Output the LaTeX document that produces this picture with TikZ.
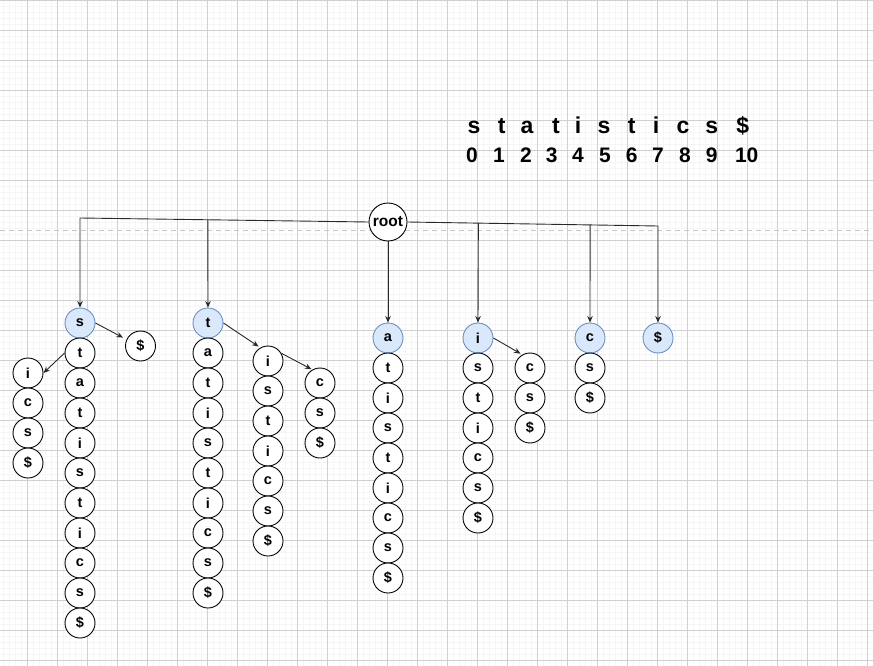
\documentclass[tikz,border=0pt]{standalone}
\usepackage{fontspec}
\setmainfont{Liberation Sans}
\usetikzlibrary{arrows.meta,calc}
\definecolor{hlfill}{HTML}{DAE8FC}
\definecolor{hldraw}{HTML}{6C8EBF}
\definecolor{majorc}{HTML}{D0D0D0}
\definecolor{minorc}{HTML}{F5F5F5}
\definecolor{edgec}{HTML}{2A2A2A}
\definecolor{dashc}{HTML}{C8C8C8}
\tikzset{
  minorgrid/.style={draw=minorc, line width=1pt},
  majorgrid/.style={draw=majorc, line width=1pt},
  nd/.style={circle, draw=black, line width=0.9pt, minimum size=30pt, inner sep=0pt, fill=white,
             font=\fontsize{14.5}{14.5}\selectfont\bfseries},
  hl/.style={nd, fill=hlfill, draw=hldraw},
  rootnd/.style={circle, draw=black, line width=0.9pt, minimum size=38pt, inner sep=0pt, fill=white,
             font=\fontsize{15.5}{15.5}\selectfont\bfseries},
  conn/.style={draw=edgec, line width=0.9pt, -{Stealth[length=6.5pt,width=5.5pt]}},
  topchar/.style={anchor=base, inner sep=0pt, font=\fontsize{23}{23}\selectfont\bfseries},
  topnum/.style={anchor=base, inner sep=0pt, font=\fontsize{21}{21}\selectfont\bfseries}
}
\begin{document}
\begin{tikzpicture}[x=1pt,y=-1pt]
\useasboundingbox (0,0) rectangle (873,666);
\fill[white] (0,0) rectangle (873,666);
% grid
\foreach \x in {3.5,9.5,...,873} \draw[minorgrid] (\x,0) -- (\x,666);
\foreach \y in {6.5,12.5,...,666} \draw[minorgrid] (0,\y) -- (873,\y);
\foreach \x in {27.5,57.5,...,868} \draw[majorgrid] (\x,0) -- (\x,666);
\foreach \y in {0.5,30.5,...,661} \draw[majorgrid] (0,\y) -- (873,\y);
% dashed page line
\draw[dashc, line width=1.5pt, dash pattern=on 5pt off 4pt] (0,230.7) -- (873,230.7);

% top string
\foreach \c/\x [count=\k] in {s/474,t/501.7,a/527,t/556,i/578,s/604,t/631.7,i/656,c/683,s/711.7,\$/742.7}
  \node[topchar] (ch\k) at (\x,133.3) {\c};
\foreach \n/\x [count=\k] in {0/472,1/499,2/526,3/551.7,4/578,5/605,6/631.7,7/658,8/685,9/711.7,10/746.7}
  \node[topnum] (num\k) at (\x,162.7) {\n};

% root
\node[rootnd] (root) at (388,222) {root};

% s branch
\node[hl] (A0) at (80,323) {s};
\foreach \l [count=\k] in {t,a,t,i,s,t,i,c,s,\$}
  \node[nd] (A\k) at (80,{323+30*\k}) {\l};
\node[nd] (Ad) at (140.5,346) {\$};
\foreach \l [count=\k] in {i,c,s,\$}
  \node[nd] (Ai\k) at (28,{343+30*\k}) {\l};

% t branch
\node[hl] (B0) at (208,323) {t};
\foreach \l [count=\k] in {a,t,i,s,t,i,c,s,\$}
  \node[nd] (B\k) at (208,{323+30*\k}) {\l};
\foreach \l [count=\k] in {i,s,t,i,c,s,\$}
  \node[nd] (Bi\k) at (268,{331+30*\k}) {\l};
\foreach \l [count=\k] in {c,s,\$}
  \node[nd] (Bc\k) at (320,{353+30*\k}) {\l};

% a branch
\node[hl] (C0) at (388,338) {a};
\foreach \l [count=\k] in {t,i,s,t,i,c,s,\$}
  \node[nd] (C\k) at (388,{338+30*\k}) {\l};

% i branch
\node[hl] (D0) at (478,338) {i};
\foreach \l [count=\k] in {s,t,i,c,s,\$}
  \node[nd] (D\k) at (478,{338+30*\k}) {\l};
\foreach \l [count=\k] in {c,s,\$}
  \node[nd] (Dc\k) at (530,{338+30*\k}) {\l};

% c branch
\node[hl] (E0) at (590,338) {c};
\foreach \l [count=\k] in {s,\$}
  \node[nd] (E\k) at (590,{338+30*\k}) {\l};

% $ branch
\node[hl] (F0) at (658,338) {\$};

% root connectors
\coordinate (cornerL) at (80,218);
\coordinate (cornerR) at (658,226);
\path (root.west) -- (cornerL) coordinate[pos=0.557] (jB);
\path (root.east) -- (cornerR) coordinate[pos=0.283] (jD) coordinate[pos=0.729] (jE);
\draw[conn] (root.west) -- (cornerL) -- (A0.north);
\draw[conn] (jB) -- (B0.north);
\draw[conn] (root.south) -- (C0.north);
\draw[conn] (root.east) -- (cornerR) -- (F0.north);
\draw[conn] (jD) -- (D0.north);
\draw[conn] (jE) -- (E0.north);

% inner connectors
\draw[conn, shorten >=4pt] (A0.east) -- (Ad.155);
\draw[conn] (A1.west) -- (Ai1.east);
\draw[conn, shorten >=2pt] (B0.east) -- (Bi1.120);
\draw[conn, shorten >=1pt] (Bi1.30) -- (Bc1.120);
\draw[conn, shorten >=2pt] (D0.east) -- (Dc1.120);
\end{tikzpicture}
\end{document}
